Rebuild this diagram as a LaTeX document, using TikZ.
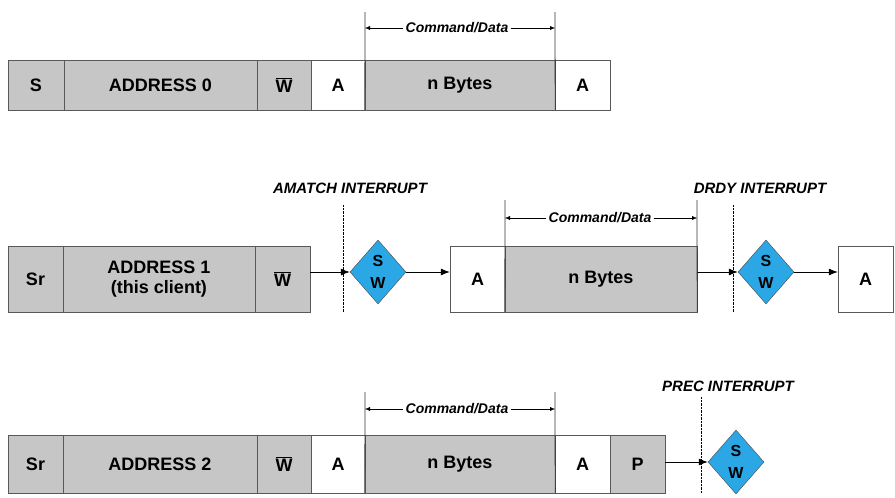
\documentclass[tikz,border=0pt]{standalone}
\usepackage{fontspec}
\setmainfont{Liberation Sans}
\usetikzlibrary{arrows.meta,shapes.geometric}
\newcommand{\nw}{$\overline{\mbox{W}}$}
\begin{document}
\begin{tikzpicture}[x=1pt,y=-1pt]
    \useasboundingbox (0,0) rectangle (895,498);
    \tikzset{
        seg/.style={draw=gray!70!black, fill=gray!45, rectangle, inner sep=0pt, font=\fontsize{18}{20}\bfseries},
        ack/.style={seg, fill=white},
        sw/.style={diamond, draw=black!70, fill=cyan!85!blue!85, minimum width=56, minimum height=64, inner sep=0pt, align=center, font=\fontsize{16}{22}\bfseries},
        lbl/.style={font=\fontsize{15}{17}\bfseries\itshape},
        cdl/.style={font=\fontsize{14}{16}\bfseries\itshape, fill=white, inner sep=2pt},
        bar/.style={draw=black!80, thick},
        irq/.style={draw=black, densely dotted},
        flow/.style={draw=black, thick, -{Latex[length=9pt,width=7pt]}},
        dim/.style={draw=black, -{Latex[length=5pt,width=4pt]}}
    }
    % row 0
    \begin{scope}
        \node[seg, minimum width=56, minimum height=50] (s0) at (36,85) {S};
        \node[seg, minimum width=193, minimum height=50] (ad0) at (160.5,85) {ADDRESS 0};
        \node[seg, minimum width=54, minimum height=50] (w0) at (284,85) {\nw};
        \node[ack, minimum width=54, minimum height=50] (a0) at (338,85) {A};
        \node[seg, minimum width=190, minimum height=50] (nb0) at (460,85) {n Bytes};
        \node[ack, minimum width=55, minimum height=50] (b0) at (582.5,85) {A};
        \coordinate (t0l) at (365,12); \coordinate (t0r) at (555,12);
        \draw[bar] (t0l) -- (nb0.south west);
        \draw[bar] (t0r) -- (nb0.south east);
        \node[cdl] (cd0) at (457,28) {Command/Data};
        \draw[dim] (cd0) -- (t0l |- cd0);
        \draw[dim] (cd0) -- (t0r |- cd0);
    \end{scope}
    % row 1
    \begin{scope}
        \node[seg, minimum width=55, minimum height=66] (s1) at (35.5,279) {Sr};
        \node[seg, minimum width=192, minimum height=66, align=center] (ad1) at (159,279) {ADDRESS 1\\(this client)};
        \node[seg, minimum width=55, minimum height=66] (w1) at (282.5,279) {\nw};
        \node[sw] (sw1) at (378,272) {S\\W};
        \node[ack, minimum width=55, minimum height=66] (a1) at (477.5,279) {A};
        \node[seg, minimum width=192, minimum height=66] (nb1) at (601,279) {n Bytes};
        \node[sw] (sw2) at (766,272) {S\\W};
        \node[ack, minimum width=55, minimum height=66] (b1) at (865.5,279) {A};
        \draw[flow] (w1.east |- sw1) -- (sw1);
        \draw[flow] (sw1) -- (a1.west |- sw1);
        \draw[flow] (nb1.east |- sw2) -- (sw2);
        \draw[flow] (sw2) -- (b1.west |- sw2);
        \coordinate (i1) at (343,205); \coordinate (i2) at (733,205);
        \draw[irq] (i1) -- (i1 |- s1.south);
        \draw[irq] (i2) -- (i2 |- s1.south);
        \node[lbl] (am) at (350,188) {AMATCH INTERRUPT};
        \node[lbl] (dr) at (760,188) {DRDY INTERRUPT};
        \coordinate (t1l) at (505,200); \coordinate (t1r) at (697,200);
        \draw[bar] (t1l) -- (nb1.south west);
        \draw[bar] (t1r) -- (nb1.south east);
        \node[cdl] (cd1) at (600,218) {Command/Data};
        \draw[dim] (cd1) -- (t1l |- cd1);
        \draw[dim] (cd1) -- (t1r |- cd1);
    \end{scope}
    % row 2
    \begin{scope}
        \node[seg, minimum width=55, minimum height=58] (s2) at (35.5,464) {Sr};
        \node[seg, minimum width=194, minimum height=58] (ad2) at (160,464) {ADDRESS 2};
        \node[seg, minimum width=54, minimum height=58] (w2) at (284,464) {\nw};
        \node[ack, minimum width=54, minimum height=58] (a2) at (338,464) {A};
        \node[seg, minimum width=190, minimum height=58] (nb2) at (460,464) {n Bytes};
        \node[ack, minimum width=55, minimum height=58] (b2) at (582.5,464) {A};
        \node[seg, minimum width=55, minimum height=58] (p2) at (637.5,464) {P};
        \node[sw] (sw3) at (736,462) {S\\W};
        \draw[flow] (p2.east |- sw3) -- (sw3);
        \coordinate (i3) at (701,397);
        \draw[irq] (i3) -- (i3 |- s2.south);
        \node[lbl] (pr) at (728,386) {PREC INTERRUPT};
        \coordinate (t2l) at (365,392); \coordinate (t2r) at (555,392);
        \draw[bar] (t2l) -- (nb2.south west);
        \draw[bar] (t2r) -- (nb2.south east);
        \node[cdl] (cd2) at (457,409) {Command/Data};
        \draw[dim] (cd2) -- (t2l |- cd2);
        \draw[dim] (cd2) -- (t2r |- cd2);
    \end{scope}
\end{tikzpicture}
\end{document}
